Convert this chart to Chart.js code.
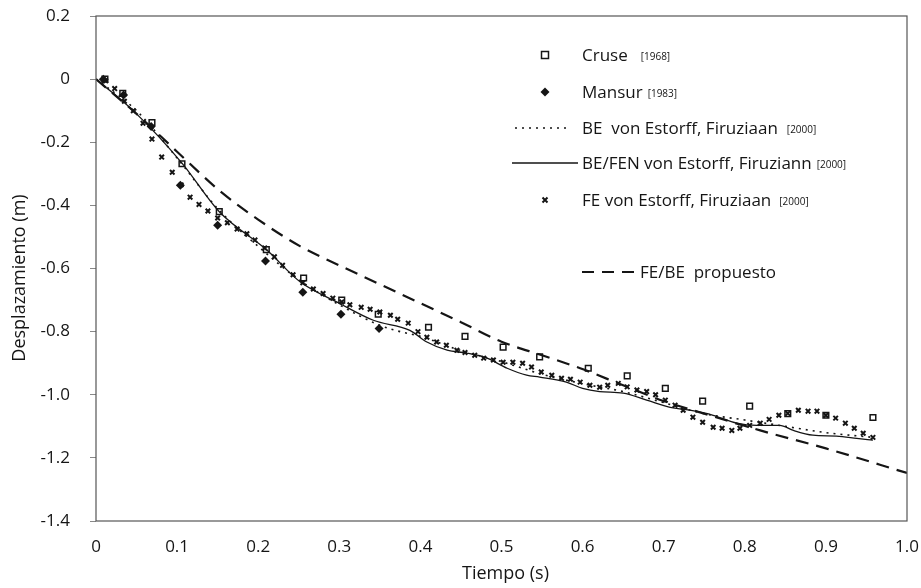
<!DOCTYPE html>
<html lang="es">
<head>
<meta charset="UTF-8">
<title>Desplazamiento vs Tiempo</title>
<script src="https://cdn.jsdelivr.net/npm/chart.js"></script>
<style>
  body { margin: 0; background: #fff; }
</style>
</head>
<body>
<canvas id="chart" width="921" height="588"></canvas>
<script>
// Cruse [1968] - squares
const cruseT = [0.011, 0.033, 0.069, 0.106, 0.152, 0.21, 0.256, 0.303, 0.348, 0.41, 0.455, 0.502, 0.547, 0.607, 0.655, 0.702, 0.748, 0.806, 0.853, 0.9, 0.958];
const cruseY = [0, -0.045, -0.138, -0.268, -0.42, -0.54, -0.63, -0.70, -0.745, -0.786, -0.815, -0.849, -0.88, -0.916, -0.94, -0.98, -1.02, -1.036, -1.06, -1.065, -1.072];

// Mansur [1983] - diamonds
const mansurT = [0.009, 0.034, 0.068, 0.104, 0.15, 0.209, 0.255, 0.302, 0.349];
const mansurY = [0, -0.05, -0.15, -0.336, -0.463, -0.576, -0.675, -0.745, -0.79];

// FE von Estorff, Firuziaan [2000] - crosses
const feT = [0.012, 0.023, 0.035, 0.046, 0.058, 0.069, 0.081, 0.094, 0.105, 0.116, 0.127, 0.138, 0.15, 0.162, 0.174, 0.186, 0.196, 0.208, 0.22, 0.23, 0.243, 0.255, 0.268, 0.28, 0.292, 0.303, 0.313, 0.327, 0.338, 0.35, 0.363, 0.372, 0.385, 0.397, 0.408, 0.42, 0.432, 0.445, 0.455, 0.467, 0.478, 0.49, 0.502, 0.514, 0.526, 0.537, 0.549, 0.562, 0.574, 0.585, 0.597, 0.609, 0.621, 0.631, 0.644, 0.655, 0.667, 0.679, 0.69, 0.702, 0.714, 0.724, 0.736, 0.748, 0.761, 0.772, 0.784, 0.794, 0.806, 0.819, 0.83, 0.842, 0.853, 0.866, 0.878, 0.889, 0.9, 0.912, 0.924, 0.935, 0.946, 0.958];
const feY = [-0.005, -0.03, -0.07, -0.10, -0.14, -0.19, -0.247, -0.295, -0.335, -0.374, -0.397, -0.418, -0.44, -0.455, -0.475, -0.49, -0.51, -0.535, -0.563, -0.59, -0.62, -0.645, -0.665, -0.679, -0.694, -0.706, -0.715, -0.723, -0.729, -0.738, -0.748, -0.761, -0.773, -0.80, -0.818, -0.833, -0.843, -0.859, -0.866, -0.875, -0.884, -0.89, -0.897, -0.897, -0.90, -0.912, -0.928, -0.938, -0.948, -0.951, -0.96, -0.97, -0.976, -0.97, -0.964, -0.975, -0.985, -0.99, -1.0, -1.017, -1.033, -1.049, -1.071, -1.087, -1.103, -1.106, -1.113, -1.106, -1.097, -1.09, -1.078, -1.065, -1.059, -1.049, -1.052, -1.052, -1.065, -1.074, -1.09, -1.106, -1.122, -1.135];

// BE/FEN von Estorff, Firuziann [2000] - solid line
const befenT = [0, 0.05, 0.106, 0.152, 0.21, 0.252, 0.3, 0.342, 0.387, 0.408, 0.433, 0.457, 0.482, 0.507, 0.531, 0.547, 0.58, 0.6, 0.621, 0.65, 0.679, 0.708, 0.732, 0.761, 0.79, 0.815, 0.843, 0.86, 0.884, 0.913, 0.938, 0.958];
const befenY = [0, -0.11, -0.266, -0.42, -0.54, -0.643, -0.71, -0.764, -0.796, -0.833, -0.859, -0.868, -0.884, -0.916, -0.938, -0.944, -0.96, -0.98, -0.99, -0.995, -1.017, -1.04, -1.049, -1.065, -1.09, -1.097, -1.097, -1.113, -1.128, -1.131, -1.138, -1.144];

// BE von Estorff, Firuziaan [2000] - dotted line
const beT = [0, 0.05, 0.1, 0.15, 0.2, 0.25, 0.3, 0.35, 0.375, 0.4, 0.45, 0.5, 0.55, 0.6, 0.65, 0.7, 0.75, 0.8, 0.85, 0.9, 0.958];
const beY = [0, -0.1, -0.25, -0.41, -0.53, -0.635, -0.715, -0.78, -0.8, -0.815, -0.86, -0.895, -0.935, -0.965, -0.99, -1.025, -1.06, -1.08, -1.1, -1.12, -1.135];

// FE/BE propuesto - dashed line
const propT = [0, 0.05, 0.1, 0.153, 0.2, 0.252, 0.3, 0.35, 0.4, 0.45, 0.5, 0.55, 0.597, 0.65, 0.7, 0.75, 0.819, 0.9, 1.0];
const propY = [0, -0.11, -0.23, -0.355, -0.445, -0.53, -0.59, -0.65, -0.71, -0.77, -0.832, -0.875, -0.916, -0.97, -1.02, -1.06, -1.113, -1.17, -1.248];

const xTicks = [0, 0.1, 0.2, 0.3, 0.4, 0.5, 0.6, 0.7, 0.8, 0.9, 1.0];
const xTickLabels = ['0', '0.1', '0.2', '0.3', '0.4', '0.5', '0.6', '0.7', '0.8', '0.9', '1.0'];
const yTicks = [0.2, 0, -0.2, -0.4, -0.6, -0.8, -1.0, -1.2, -1.4];
const yTickLabels = ['0.2', '0', '-0.2', '-0.4', '-0.6', '-0.8', '-1.0', '-1.2', '-1.4'];

const legendNames = ['Cruse', 'Mansur', 'BE  von Estorff, Firuziaan', 'BE/FEN von Estorff, Firuziann', 'FE von Estorff, Firuziaan', 'FE/BE  propuesto'];
const legendYears = ['[1968]', '[1983]', '[2000]', '[2000]', '[2000]', ''];

const INK = '#151515';
const FONT = '"Open Sans", "DejaVu Sans", sans-serif';

function pts(xs, ys) {
  return xs.map((x, i) => ({ x: x, y: ys[i] }));
}

// box, axis titles and the legend inside the plot
const decorations = {
  id: 'decorations',
  afterDraw(chart) {
    const ctx = chart.ctx;
    const a = chart.chartArea;
    ctx.save();
    ctx.strokeStyle = '#555';
    ctx.lineWidth = 1.2;
    ctx.strokeRect(a.left, a.top, a.right - a.left, a.bottom - a.top);

    ctx.fillStyle = INK;
    ctx.font = '18px ' + FONT;
    ctx.textAlign = 'center';
    ctx.textBaseline = 'middle';
    ctx.fillText('Tiempo (s)', (a.left + a.right) / 2 + 4, 574);
    ctx.save();
    ctx.translate(20, 278);
    ctx.rotate(-Math.PI / 2);
    ctx.fillText('Desplazamiento (m)', 0, 0);
    ctx.restore();

    // legend
    const rows = [55, 92, 128, 163, 200, 272];
    const textX = [582, 582, 582, 582, 582, 640];
    const gaps = [13, 5, 9, 5, 8, 0];
    ctx.strokeStyle = INK;
    ctx.fillStyle = INK;
    // Cruse square
    ctx.lineWidth = 1.5;
    ctx.strokeRect(541.5, rows[0] - 3.5, 7, 7);
    // Mansur diamond
    ctx.beginPath();
    ctx.moveTo(545, rows[1] - 4.5); ctx.lineTo(549.5, rows[1]);
    ctx.lineTo(545, rows[1] + 4.5); ctx.lineTo(540.5, rows[1]);
    ctx.closePath(); ctx.fill();
    // dotted line
    ctx.lineWidth = 1.6;
    ctx.setLineDash([2, 5]);
    ctx.beginPath(); ctx.moveTo(515, rows[2]); ctx.lineTo(569, rows[2]); ctx.stroke();
    // solid line
    ctx.setLineDash([]);
    ctx.lineWidth = 1.3;
    ctx.beginPath(); ctx.moveTo(512, rows[3]); ctx.lineTo(578, rows[3]); ctx.stroke();
    // FE cross
    ctx.lineWidth = 2;
    ctx.beginPath();
    ctx.moveTo(542.5, rows[4] - 2.5); ctx.lineTo(547.5, rows[4] + 2.5);
    ctx.moveTo(547.5, rows[4] - 2.5); ctx.lineTo(542.5, rows[4] + 2.5);
    ctx.stroke();
    // dashed line
    ctx.lineWidth = 2.2;
    ctx.setLineDash([12, 8]);
    ctx.beginPath(); ctx.moveTo(582, rows[5]); ctx.lineTo(638, rows[5]); ctx.stroke();
    ctx.setLineDash([]);

    ctx.textAlign = 'left';
    ctx.textBaseline = 'alphabetic';
    legendNames.forEach((name, i) => {
      ctx.font = '17px ' + FONT;
      ctx.fillText(name, textX[i], rows[i] + 6);
      const w = ctx.measureText(name).width;
      if (legendYears[i]) {
        ctx.font = '10px ' + FONT;
        ctx.fillText(legendYears[i], textX[i] + w + gaps[i], rows[i] + 5);
      }
    });
    ctx.restore();
  }
};

const config = {
  type: 'scatter',
  data: {
    datasets: [
      {
        label: 'FE/BE propuesto',
        data: pts(propT, propY),
        showLine: true,
        borderColor: INK,
        borderWidth: 2.2,
        borderDash: [13, 8],
        pointRadius: 0,
        cubicInterpolationMode: 'monotone'
      },
      {
        label: 'BE/FEN von Estorff, Firuziann',
        data: pts(befenT, befenY),
        showLine: true,
        borderColor: INK,
        borderWidth: 1.3,
        pointRadius: 0,
        cubicInterpolationMode: 'monotone'
      },
      {
        label: 'BE von Estorff, Firuziaan',
        data: pts(beT, beY),
        showLine: true,
        borderColor: INK,
        borderWidth: 1.6,
        borderDash: [2, 5],
        pointRadius: 0,
        cubicInterpolationMode: 'monotone'
      },
      {
        label: 'FE von Estorff, Firuziaan',
        data: pts(feT, feY),
        pointStyle: 'crossRot',
        pointRadius: 3.2,
        borderWidth: 2,
        borderColor: INK
      },
      {
        label: 'Mansur',
        data: pts(mansurT, mansurY),
        pointStyle: 'rectRot',
        pointRadius: 4.5,
        borderWidth: 0,
        backgroundColor: INK,
        borderColor: INK
      },
      {
        label: 'Cruse',
        data: pts(cruseT, cruseY),
        pointStyle: 'rect',
        pointRadius: 4,
        borderWidth: 1.5,
        backgroundColor: '#fff',
        borderColor: INK
      }
    ]
  },
  options: {
    responsive: false,
    animation: false,
    devicePixelRatio: 1,
    layout: { padding: { top: 16, right: 14, left: 0, bottom: 0 } },
    plugins: {
      legend: { display: false },
      tooltip: { enabled: false }
    },
    scales: {
      x: {
        type: 'linear',
        min: 0,
        max: 1,
        afterBuildTicks: s => { s.ticks = xTicks.map(v => ({ value: v })); },
        afterFit: s => { s.height = 67; s.paddingLeft = 0; s.paddingRight = 0; },
        border: { display: false },
        grid: { drawOnChartArea: false, drawTicks: false },
        ticks: {
          padding: 16,
          color: INK,
          font: { family: FONT, size: 17 },
          callback: (v, i) => xTickLabels[i]
        }
      },
      y: {
        type: 'linear',
        min: -1.4,
        max: 0.2,
        afterBuildTicks: s => { s.ticks = yTicks.map(v => ({ value: v })); },
        afterFit: s => { s.width = 96; s.paddingTop = 0; s.paddingBottom = 0; },
        border: { display: false },
        grid: { drawOnChartArea: false, drawTicks: true, tickLength: 6, color: '#888' },
        ticks: {
          padding: 20,
          color: INK,
          font: { family: FONT, size: 17 },
          callback: (v, i) => yTickLabels[i]
        }
      }
    }
  },
  plugins: [decorations]
};

new Chart(document.getElementById('chart').getContext('2d'), config);
</script>
</body>
</html>
